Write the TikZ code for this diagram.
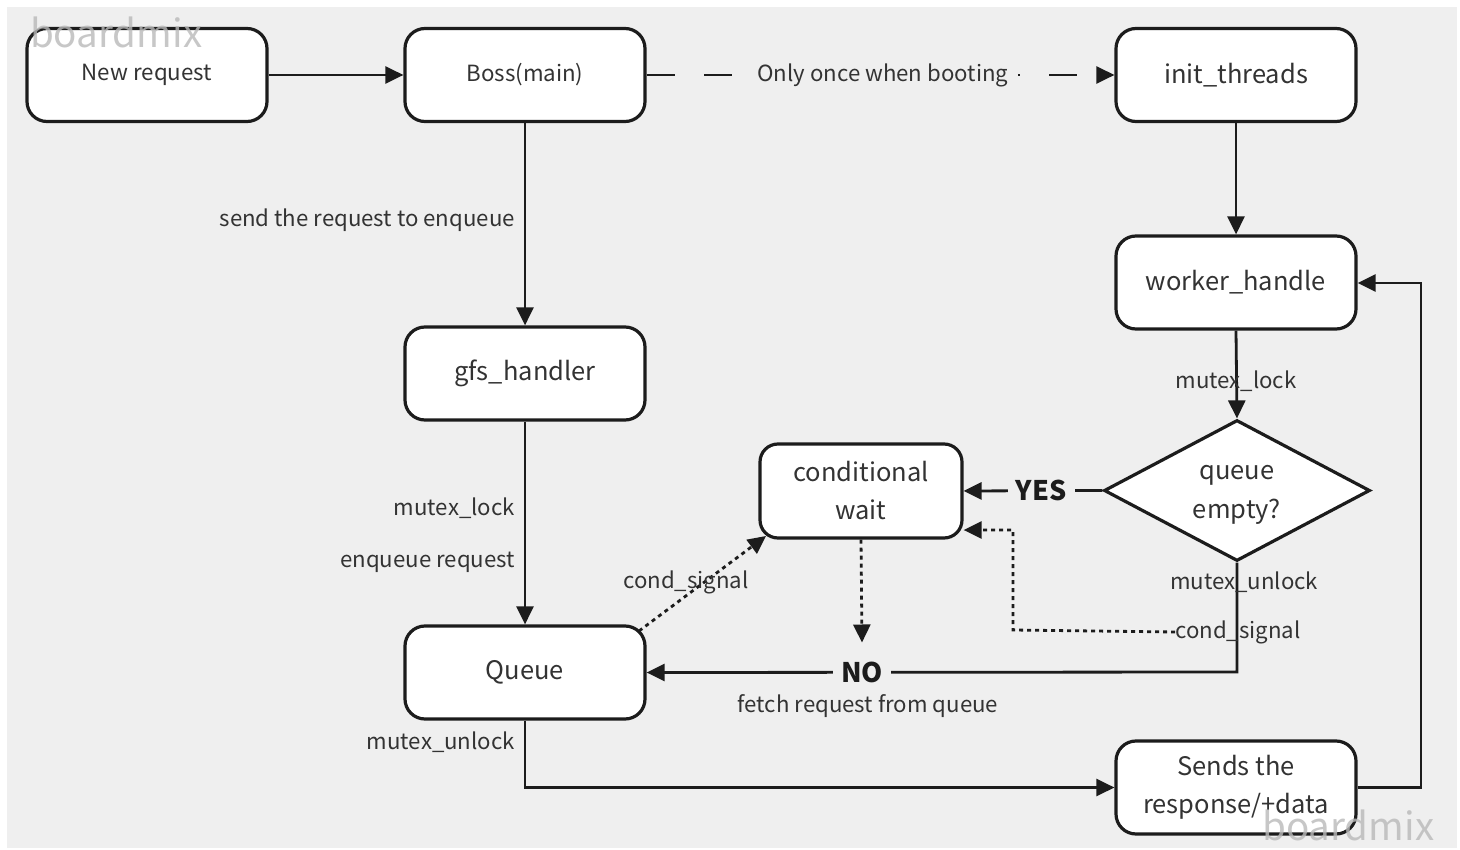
\documentclass[tikz,border=0pt]{standalone}
\usepackage{fontspec}
\setmainfont{Noto Sans CJK SC}
\usetikzlibrary{arrows.meta,shapes.geometric,positioning}
\definecolor{bgc}{RGB}{239,239,239}
\definecolor{ink}{RGB}{28,28,28}
\definecolor{txt}{RGB}{51,51,51}
\definecolor{wm}{RGB}{185,185,185}
\tikzset{
  box/.style={draw=ink,fill=white,line width=3.2pt,rounded corners=20pt,
    minimum width=240pt,minimum height=93pt,align=center,text=txt,
    font=\fontsize{25.5}{38}\selectfont},
  smallbox/.style={box,font=\fontsize{22.3}{30}\selectfont},
  decision/.style={diamond,draw=ink,fill=white,line width=3.2pt,
    minimum width=266pt,minimum height=141pt,inner sep=0pt},
  conn/.style={draw=ink,line width=2.8pt,-{Triangle[length=18pt,width=17pt]}},
  dotconn/.style={conn,dash pattern=on 4pt off 4pt},
  lbl/.style={text=txt,font=\fontsize{22.2}{26}\selectfont,inner sep=0pt},
  tag/.style={lbl,fill=bgc,inner sep=10pt},
  bigtag/.style={text=ink,font=\fontsize{27}{30}\selectfont\bfseries,fill=bgc,inner sep=8pt},
  watermark/.style={text=wm,opacity=0.8,font=\fontsize{38.5}{40}\selectfont,inner sep=0pt}
}
\begin{document}
\begin{tikzpicture}[x=1pt,y=-1pt]
  % page and canvas
  \useasboundingbox[fill=white] (0,0) rectangle (1460,850);
  \fill[bgc] (7,7) rectangle (1457,848);

  % process boxes
  \node[smallbox] (newreq) at (147,75) {New request};
  \node[smallbox] (boss)   at (525,75) {Boss(main)};
  \node[box]      (init)   at (1236,75) {init\_threads};
  \node[box]      (worker) at (1236,282.5) {worker\_handle};
  \node[box]      (gfs)    at (525,373.5) {gfs\_handler};
  \node[box,minimum width=202pt,minimum height=94pt,rounded corners=18pt]
                  (cwait)  at (861,491) {conditional\\wait};
  \node[decision] (empty)  at (1237,490.5) {};
  \node[align=center,text=txt,font=\fontsize{25.5}{39}\selectfont]
                  (emptyTxt) at (1237,494.5) {queue\\empty?};
  \node[box] (queue) at (525,672.5) {Queue};
  \node[box]      (send)   at (1236,787.5) {Sends the\\response/+data};

  % helper points for routed connectors
  \coordinate (noTurn)   at (1237,672);
  \coordinate (sendOut)  at (1421,787.5);
  \coordinate (backIn)   at (1421,283);
  \coordinate (qDown)    at (525,787.5);
  \coordinate (sigUp)    at (1013,630);
  \coordinate (sigIn)    at (1013,530);
  \coordinate (qCorner)  at (639,631);
  \coordinate (cwCorner) at (766,536);

  % boot path
  \draw[conn] (newreq.east) -- (boss.west);
  \draw[conn,dash pattern=on 28pt off 29.5pt] (boss.east) -- (init.west)
    node[tag,pos=0.505] {Only once when booting};
  \draw[conn] (init.south) -- (worker.north);

  % request path
  \draw[conn] (boss.south) -- (gfs.north);
  \node[lbl,anchor=east] at (515,220) {send the request to enqueue};
  \draw[conn] (gfs.south) -- (queue.north);
  \node[lbl,anchor=east] at (515,508) {mutex\_lock};
  \node[lbl,anchor=east] at (515,562) {enqueue request};

  % worker loop
  \draw[conn] (worker.south) -- (empty.north);
  \node[lbl] at (1236,381) {mutex\_lock};
  \draw[conn] (empty.west) -- (cwait.east) node[bigtag,pos=0.44] {YES};
  \draw[conn] (empty.south) -- (noTurn) -- (queue.east)
    node[bigtag,pos=0.635] (no) {NO};
  \node[lbl] at (1244,582) {mutex\_unlock};
  \node[lbl] (sigR) at (1238,632) {cond\_signal};
  \node[lbl] at (868,706) {fetch request from queue};

  % signalling
  \draw[dotconn] (sigR.west) -- (sigUp) -- (sigIn) -- (cwait.east |- sigIn);
  \draw[dotconn] (qCorner) -- (cwCorner);
  \node[lbl] at (686,582) {cond\_signal};
  \draw[dotconn,shorten >=10pt] (cwait.south) -- (no.north);

  % response path
  \draw[conn] (queue.south) -- (qDown) -- (send.west);
  \node[lbl,anchor=east] at (515,742) {mutex\_unlock};
  \draw[conn] (send.east) -- (sendOut) -- (backIn) -- (worker.east |- backIn);

  % watermarks
  \node[watermark,anchor=base west] at (30,48) {boardmix};
  \node[watermark,anchor=base west] at (1262,840) {boardmix};
\end{tikzpicture}
\end{document}
